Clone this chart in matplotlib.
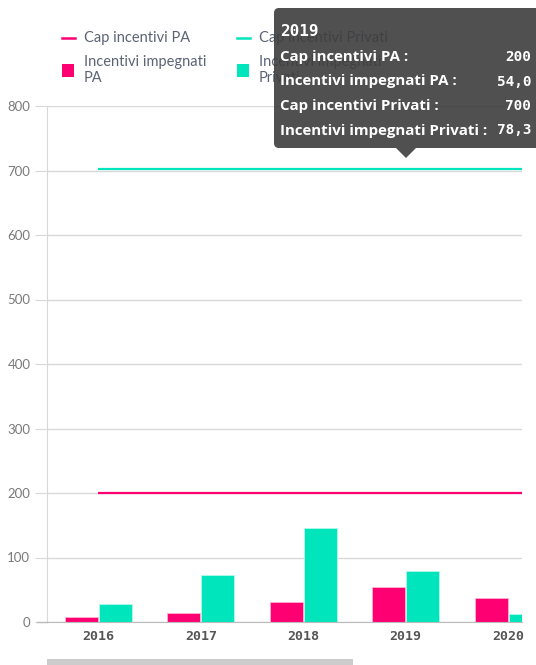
import numpy as np
import matplotlib
matplotlib.use("Agg")
import matplotlib.pyplot as plt
from matplotlib.patches import FancyBboxPatch, Polygon, Rectangle
from matplotlib.lines import Line2D

# ── data ─────────────────────────────────────────────────────────────────────
years = ["2016", "2017", "2018", "2019", "2020"]
cap_pa = [200, 200, 200, 200, 200]
cap_privati = [700, 700, 700, 700, 700]
impegnati_pa = [7, 14.5, 30.5, 54.0, 37.7]
impegnati_privati = [28, 73, 146, 78.3, 12.4]

legend_labels = ["Cap incentivi PA", "Cap incentivi Privati",
                 "Incentivi impegnati\nPA", "Incentivi impegnati\nPrivati"]
tip_names = ["Cap incentivi PA", "Incentivi impegnati PA",
             "Cap incentivi Privati", "Incentivi impegnati Privati"]

tip_year = "2019"
tip_idx = years.index(tip_year)

PINK = "#ff0073"
TEAL = "#00e5bc"
GRID = "#d9d9d9"
LEG_TXT = "#5b6475"

W, H = 536, 665
fig = plt.figure(figsize=(W / 100, H / 100), dpi=100)
fig.patch.set_facecolor("white")

# ── main axes ────────────────────────────────────────────────────────────────
left, right, top, bottom = 47, 522, 106, 622
ax = fig.add_axes([left / W, 1 - bottom / H, (right - left) / W, (bottom - top) / H])
x = np.arange(len(years))
bw = 0.32
xmax = (right - left) / 102.5 - 0.5
ax.bar(x - 0.165, impegnati_pa, bw, color=PINK, edgecolor="#ffb3d1", linewidth=0.6, zorder=3)
ax.bar(x + 0.165, impegnati_privati, bw, color=TEAL, edgecolor="#b3f7ea", linewidth=0.6, zorder=3)
# cap lines continue past the visible (scrolled) area
ax.hlines(cap_pa[0], x[0], xmax, color=PINK, lw=1.6, zorder=4)
ax.hlines(cap_privati[0] + 2, x[0], xmax, color=TEAL, lw=1.6, zorder=4)

ax.set_xlim(-0.5, xmax)
ax.set_ylim(0, 800)
ax.set_yticks(range(0, 801, 100))
ax.grid(axis="y", color=GRID, lw=1, zorder=0)
ax.set_xticks(x)
ax.set_xticklabels(years, family="DejaVu Sans Mono", fontweight="bold", fontsize=9.5, color="#555555")
ax.tick_params(axis="x", length=0, pad=6)
ax.tick_params(axis="y", length=9, color=GRID, labelsize=9.5, labelcolor="#7a7a7a", pad=3)
for lab in ax.get_yticklabels():
    lab.set_family("Lato")
for s in ["top", "right"]:
    ax.spines[s].set_visible(False)
ax.spines["left"].set_color(GRID)
ax.spines["bottom"].set_color("#bbbbbb")
ax.spines["bottom"].set_zorder(5)

# ── overlay in pixel coordinates ─────────────────────────────────────────────
ov = fig.add_axes([0, 0, 1, 1])
ov.set_xlim(0, W)
ov.set_ylim(H, 0)
ov.axis("off")

# bottom axis extends left a bit
ov.add_line(Line2D([37, 47], [622, 622], color="#bbbbbb", lw=1))

# scrollbar
ov.add_patch(Rectangle((47, 659), 306, 6, color="#cccccc", lw=0))

# legend
leg_x = [62, 237]
for lx, col, lab in zip(leg_x, [PINK, TEAL], legend_labels[:2]):
    ov.add_line(Line2D([lx, lx + 13], [38, 38], color=col, lw=1.8))
    ov.text(lx + 22, 38, lab, fontsize=10.5, family="Lato", color=LEG_TXT, va="center")
for lx, col, lab in zip(leg_x, [PINK, TEAL], legend_labels[2:]):
    ov.add_patch(Rectangle((lx, 64), 12, 13, color=col, lw=0))
    for j, part in enumerate(lab.split("\n")):
        ov.text(lx + 22, 62 + j * 16, part, fontsize=10.5, family="Lato", color=LEG_TXT, va="center")

# tooltip
ov.add_patch(FancyBboxPatch((274, 8), 270, 140, boxstyle="round,pad=0,rounding_size=5",
                            fc="#3d3d3d", ec="none", alpha=0.9, zorder=10))
ov.add_patch(Polygon([[396, 148], [416, 148], [406, 158]], closed=True,
                     fc="#3d3d3d", ec="none", alpha=0.9, zorder=10))
ov.text(280, 31, tip_year, family="DejaVu Sans Mono", fontweight="bold", fontsize=11.5,
        color="white", va="center", zorder=11)
tip_vals = [f"{cap_pa[tip_idx]:.0f}", f"{impegnati_pa[tip_idx]:.1f}".replace(".", ","),
            f"{cap_privati[tip_idx]:.0f}", f"{impegnati_privati[tip_idx]:.1f}".replace(".", ",")]
for i, (name, val) in enumerate(zip(tip_names, tip_vals)):
    yy = 57 + i * 24.5
    ov.text(280, yy, name + " :", family="Open Sans", fontweight="bold", fontsize=10.8,
            color="white", va="center", zorder=11)
    ov.text(531, yy, val, family="DejaVu Sans Mono", fontweight="bold", fontsize=10.3,
            color="white", va="center", ha="right", zorder=11)

plt.savefig("out.png", dpi=100)
